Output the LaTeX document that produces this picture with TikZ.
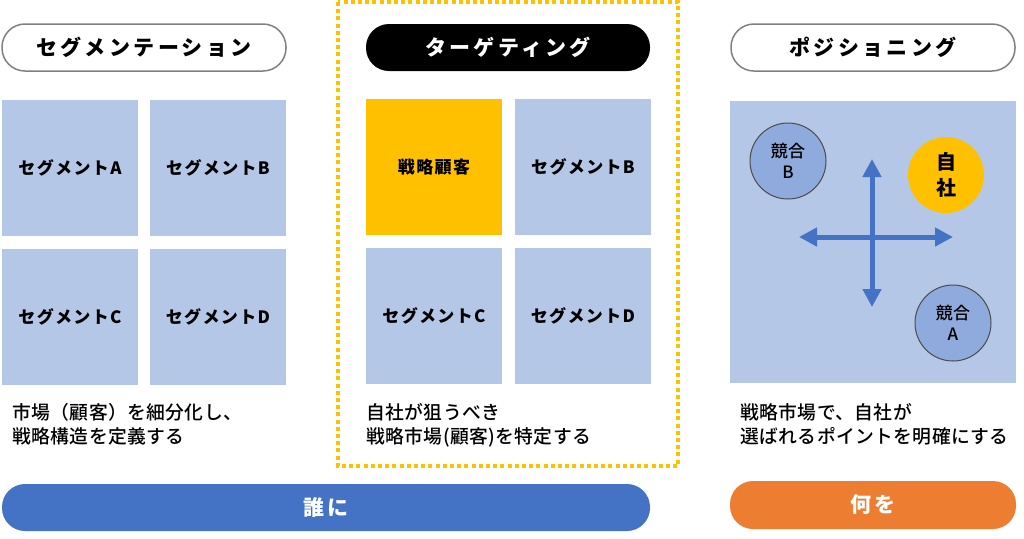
\documentclass[tikz,border=0pt]{standalone}
\usepackage{fontspec}
\setmainfont{Noto Sans CJK JP}
\newfontfamily\pillfont{Noto Sans CJK JP}[LetterSpace=16]
\newfontfamily\segfont{Noto Sans CJK JP}[LetterSpace=8]
\newfontfamily\descfont{Noto Sans CJK JP Medium}[LetterSpace=2]
\usepackage{tikz}
\usetikzlibrary{arrows.meta,positioning}
\definecolor{segblue}{RGB}{180,199,231}
\definecolor{compblue}{RGB}{143,170,220}
\definecolor{axisblue}{RGB}{68,114,196}
\definecolor{tgtyellow}{RGB}{255,192,0}
\definecolor{whatorange}{RGB}{237,125,49}
\definecolor{pillgray}{RGB}{128,128,128}
\tikzstyle{pill} = [rounded corners=11.5pt, minimum width=142pt, minimum height=23.5pt, inner sep=0pt, font=\pillfont\fontsize{10.5}{12}\selectfont\bfseries]
\tikzstyle{segbox} = [fill=segblue, minimum width=68pt, minimum height=68pt, inner sep=0pt, font=\segfont\fontsize{8.5}{10}\selectfont\bfseries]
\tikzstyle{comp} = [circle, fill=compblue, draw=black!70, line width=0.5pt, minimum size=38pt, inner sep=0pt, align=center, font=\descfont\fontsize{8.5}{10.5}\selectfont]
\tikzstyle{desc} = [anchor=north west, inner sep=0pt, align=left, font=\descfont\fontsize{9.4}{12}\selectfont]
\tikzstyle{axis} = [line width=2.5pt, color=axisblue, {Triangle[width=9pt,length=9pt]}-{Triangle[width=9pt,length=9pt]}]

\begin{document}
\begin{tikzpicture}[x=0.5pt, y=-0.5pt]
\useasboundingbox (0,0) rectangle (1024,538);
% Targeting frame
\draw[tgtyellow, line width=2.2pt, dash pattern=on 2pt off 1.6pt] (338,2) rectangle (678,466);
% Column titles
\node[pill, draw=pillgray, line width=0.75pt, fill=white] (segtitle) at (144,47.5) {セグメンテーション};
\node[pill, fill=black, text=white] (tgttitle) at (508,47.5) {ターゲティング};
\node[pill, draw=pillgray, line width=0.75pt, fill=white] (postitle) at (873,47.5) {ポジショニング};
% Segmentation
\node[segbox] (segA) at (70,168) {セグメントA};
\node[segbox] (segB) at (218,168) {セグメントB};
\node[segbox] (segC) at (70,317) {セグメントC};
\node[segbox] (segD) at (218,317) {セグメントD};
% Targeting
\node[segbox, fill=tgtyellow] (tgtA) at (434,167) {戦略顧客};
\node[segbox] (tgtB) at (583,167) {セグメントB};
\node[segbox] (tgtC) at (434,316) {セグメントC};
\node[segbox] (tgtD) at (583,316) {セグメントD};
% Positioning map
\node[fill=segblue, minimum width=143pt, minimum height=141pt, inner sep=0pt] (posmap) at (873,242) {};
\coordinate (axL) at (799,237);
\coordinate (axR) at (953,237);
\coordinate (axT) at (872,159);
\coordinate (axB) at (872,307);
\draw[axis] (axL) -- (axR);
\draw[axis] (axT) -- (axB);
\node[comp] (compB) at (788,161) {競合\\B};
\node[comp, fill=tgtyellow, draw=none, font=\segfont\fontsize{10}{13}\selectfont\bfseries] (self) at (946,175) {自\\社};
\node[comp] (compA) at (953,323) {競合\\A};
% Descriptions
\node[desc] (segdesc) at (12,403) {市場（顧客）を細分化し、\\戦略構造を定義する};
\node[desc] (tgtdesc) at (366,403) {自社が狙うべき\\戦略市場(顧客)を特定する};
\node[desc] (posdesc) at (740,403) {戦略市場で、自社が\\選ばれるポイントを明確にする};
% Bottom bars
\node[pill, fill=axisblue, text=white, minimum width=324pt] (who) at (326,507.5) {誰に};
\node[pill, fill=whatorange, text=white, minimum width=143pt, minimum height=24pt] (what) at (873,505) {何を};
\end{tikzpicture}
\end{document}
